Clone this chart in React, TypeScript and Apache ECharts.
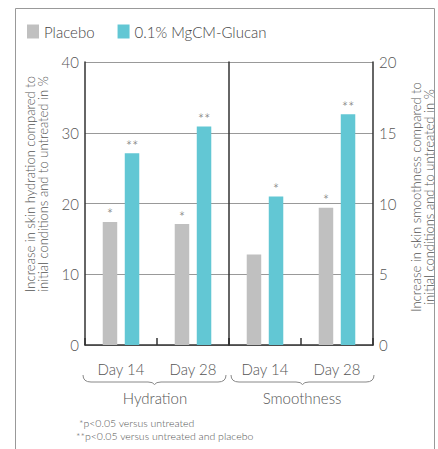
import React, { useEffect, useRef } from "react";
import * as echarts from "echarts";

const days = ["Day 14", "Day 28"];
const groups = ["Hydration", "Smoothness"];
const seriesNames = ["Placebo", "0.1% MgCM-Glucan"];
const hydrationPlacebo = [17.4, 17.1];
const hydrationGlucan = [27.1, 30.9];
const smoothnessPlacebo = [6.4, 9.7];
const smoothnessGlucan = [10.5, 16.3];
const hydrationPlaceboSig = ["*", "*"];
const hydrationGlucanSig = ["**", "**"];
const smoothnessPlaceboSig = ["", "*"];
const smoothnessGlucanSig = ["*", "**"];
const leftTicks = { min: 0, max: 40, interval: 10 };
const rightTicks = { min: 0, max: 20, interval: 5 };
const leftTitle = ["Increase in skin hydration compared to", "initial conditions and to untreated in %"];
const rightTitle = ["Increase in skin smoothness compared to", "initial conditions and to untreated in %"];
const footnotes = ["*p<0.05 versus untreated", "**p<0.05 versus untreated and placebo"];

const GREY = "#c0c0c0";
const TEAL = "#62c7d4";
const FONT = "Lato, 'Noto Sans', sans-serif";
const TEXT = "#555";
const W = 300;

let braceRegistered = false;
function registerBrace() {
  if (braceRegistered) return;
  braceRegistered = true;
  const d = "M0 0 Q0 7 8 7 L65 7 Q70 7 71.5 9.5 Q73 7 78 7 L135 7 Q143 7 143 0";
  echarts.graphic.registerShape("brace", echarts.graphic.extendPath(d, {}) as any);
}

export default function App() {
  const ref = useRef<HTMLDivElement>(null);
  useEffect(() => {
    if (!ref.current) return;
    registerBrace();
    const chart = echarts.init(ref.current, null, { renderer: "svg" });
    const mkLabel = (sig: string[]) => ({
      show: true,
      position: "top" as const,
      distance: 0,
      fontSize: 15,
      color: "#666",
      fontFamily: FONT,
      fontWeight: W,
      formatter: (p: any) => sig[p.dataIndex],
    });
    const yLabel = { fontSize: 15, color: TEXT, fontFamily: FONT, fontWeight: W, margin: 6 };
    const xCommon = {
      type: "category" as const,
      data: days,
      axisLine: { lineStyle: { color: "#333", width: 1.5 } },
      axisTick: { show: true, inside: true, length: 7, lineStyle: { color: "#333", width: 1.5 } },
      axisLabel: { fontSize: 15, color: TEXT, fontFamily: FONT, fontWeight: W, margin: 16 },
    };
    const splitLine = { show: true, lineStyle: { color: "#999", width: 1 } };
    const option: any = {
      animation: false,
      legend: {
        data: seriesNames,
        left: 22,
        top: 19,
        icon: "rect",
        itemWidth: 12,
        itemHeight: 14,
        itemGap: 23,
        textStyle: { fontSize: 15, color: "#444", fontFamily: FONT, fontWeight: W },
      },
      grid: [
        { left: 85, top: 62, width: 144, height: 283 },
        { left: 229, top: 62, width: 144, height: 283 },
      ],
      xAxis: [
        { ...xCommon, gridIndex: 0 },
        { ...xCommon, gridIndex: 1 },
      ],
      yAxis: [
        {
          type: "value", gridIndex: 0, position: "left", ...leftTicks,
          axisLine: { show: true, lineStyle: { color: "#333", width: 1.5 } },
          axisTick: { show: false }, axisLabel: yLabel, splitLine,
        },
        {
          type: "value", gridIndex: 0, position: "right", ...leftTicks,
          axisLine: { show: true, lineStyle: { color: "#333", width: 1.5 } },
          axisTick: { show: false }, axisLabel: { show: false }, splitLine: { show: false },
        },
        {
          type: "value", gridIndex: 1, position: "right", ...rightTicks,
          axisLine: { show: true, lineStyle: { color: "#333", width: 1.5 } },
          axisTick: { show: false }, axisLabel: yLabel, splitLine,
        },
      ],
      series: [
        { name: seriesNames[0], type: "bar", xAxisIndex: 0, yAxisIndex: 0, data: hydrationPlacebo, itemStyle: { color: GREY }, barWidth: 14.5, barGap: "52%", label: mkLabel(hydrationPlaceboSig) },
        { name: seriesNames[1], type: "bar", xAxisIndex: 0, yAxisIndex: 0, data: hydrationGlucan, itemStyle: { color: TEAL }, barWidth: 14.5, barGap: "52%", label: mkLabel(hydrationGlucanSig) },
        { name: seriesNames[0], type: "bar", xAxisIndex: 1, yAxisIndex: 2, data: smoothnessPlacebo, itemStyle: { color: GREY }, barWidth: 14.5, barGap: "52%", label: mkLabel(smoothnessPlaceboSig) },
        { name: seriesNames[1], type: "bar", xAxisIndex: 1, yAxisIndex: 2, data: smoothnessGlucan, itemStyle: { color: TEAL }, barWidth: 14.5, barGap: "52%", label: mkLabel(smoothnessGlucanSig) },
      ],
      graphic: [
        { type: "rect", shape: { x: 15.5, y: 8.5, width: 419, height: 470 }, style: { fill: "none", stroke: "#999", lineWidth: 1 }, silent: true },
        { type: "text", x: 36.5, y: 184, rotation: Math.PI / 2, style: { text: leftTitle.join("\n"), fontSize: 13, lineHeight: 13.5, fill: TEXT, fontFamily: FONT, fontWeight: W, align: "center", verticalAlign: "middle" } },
        { type: "text", x: 422.5, y: 197, rotation: Math.PI / 2, style: { text: rightTitle.join("\n"), fontSize: 13, lineHeight: 12.5, fill: TEXT, fontFamily: FONT, fontWeight: W, align: "center", verticalAlign: "middle" } },
        { type: "brace", x: 83, y: 375, style: { fill: "none", stroke: "#888", lineWidth: 1 } },
        { type: "brace", x: 231, y: 375, style: { fill: "none", stroke: "#888", lineWidth: 1 } },
        { type: "text", x: 155, y: 398, style: { text: groups[0], fontSize: 15, fill: TEXT, fontFamily: FONT, fontWeight: W, align: "center", verticalAlign: "middle" } },
        { type: "text", x: 302, y: 398, style: { text: groups[1], fontSize: 15, fill: TEXT, fontFamily: FONT, fontWeight: W, align: "center", verticalAlign: "middle" } },
        { type: "text", x: 79, y: 423, style: { text: footnotes[0], fontSize: 10.5, fill: TEXT, fontFamily: FONT, fontWeight: W, align: "left", verticalAlign: "middle" } },
        { type: "text", x: 76, y: 436, style: { text: footnotes[1], fontSize: 10.5, fill: TEXT, fontFamily: FONT, fontWeight: W, align: "left", verticalAlign: "middle" } },
      ],
    };
    chart.setOption(option);
    return () => chart.dispose();
  }, []);
  return <div ref={ref} style={{ position: "fixed", left: 0, top: 0, width: 438, height: 449, background: "#fff" }} />;
}
